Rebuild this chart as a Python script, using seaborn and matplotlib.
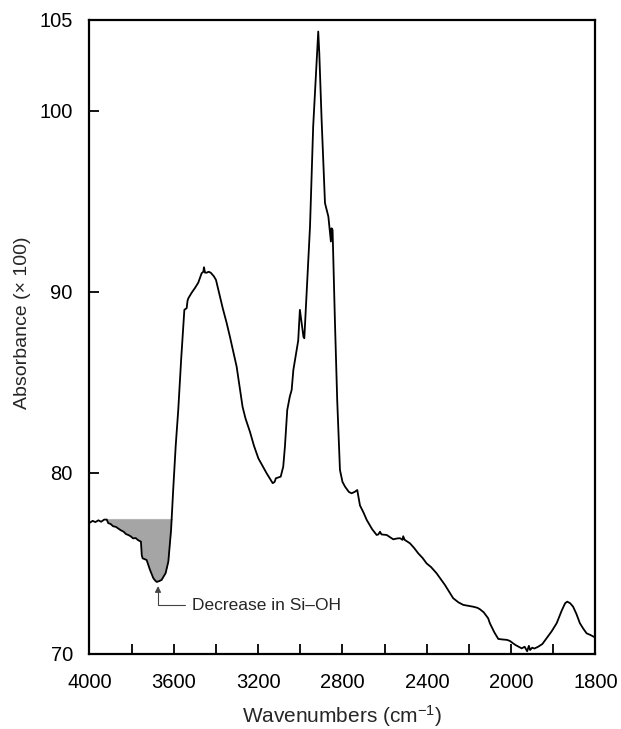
import numpy as np
import pandas as pd
import matplotlib
matplotlib.use('Agg')
import matplotlib.pyplot as plt
import seaborn as sns

# spectrum (wavenumber cm-1, absorbance x100)
wavenumbers = [
    3998, 3985, 3972, 3958, 3945, 3930, 3918, 3911, 3900, 3888, 3875, 3863,
    3850, 3838, 3827, 3816, 3805, 3793, 3781, 3769, 3756, 3752, 3748, 3729,
    3713, 3697, 3688, 3681, 3670, 3658, 3639, 3626, 3613, 3603, 3591, 3579,
    3565, 3550, 3539, 3535, 3531, 3515, 3500, 3484, 3468, 3460, 3457, 3452,
    3444, 3435, 3425, 3410, 3400, 3381, 3368, 3350, 3334, 3302, 3274, 3260,
    3239, 3220, 3199, 3180, 3160, 3140, 3131, 3122, 3116, 3093, 3081, 3073,
    3062, 3050, 3041, 3033, 3017, 3010, 3002, 2995, 2985, 2981, 2970, 2954,
    2939, 2915, 2910, 2899, 2883, 2867, 2855, 2852, 2847, 2836, 2825, 2812,
    2800, 2788, 2770, 2757, 2742, 2730, 2717, 2700, 2685, 2660, 2638, 2630,
    2622, 2615, 2590, 2575, 2559, 2540, 2527, 2515, 2512, 2505, 2480, 2460,
    2441, 2420, 2401, 2380, 2354, 2335, 2314, 2295, 2275, 2250, 2227, 2200,
    2180, 2160, 2148, 2130, 2109, 2101, 2080, 2061, 2040, 2020, 2006, 1990,
    1975, 1968, 1962, 1958, 1955, 1950, 1945, 1936, 1926, 1916, 1904, 1892,
    1880, 1872, 1867, 1860, 1853, 1845, 1837, 1829, 1821, 1812, 1805, 1800,
]
absorbance = [
    77.25, 77.35, 77.28, 77.38, 77.30, 77.42, 77.42, 77.22, 77.18, 77.05, 77.02, 76.92,
    76.82, 76.75, 76.62, 76.57, 76.50, 76.38, 76.40, 76.28, 76.20, 75.45, 75.28, 75.19,
    74.64, 74.18, 74.05, 73.98, 74.02, 74.09, 74.46, 75.10, 76.85, 79.06, 81.5, 83.47,
    86.3, 89.0, 89.09, 89.5, 89.64, 89.95, 90.2, 90.5, 91.02, 91.1, 91.35, 91.05,
    91.05, 91.1, 91.05, 90.85, 90.65, 89.73, 89.09, 88.3, 87.52, 85.86, 83.65, 83.0,
    82.27, 81.5, 80.8, 80.4, 79.98, 79.6, 79.43, 79.5, 79.7, 79.79, 80.34, 81.45,
    83.47, 84.2, 84.58, 85.68, 86.79, 87.3, 89.0, 88.4, 87.5, 87.43, 89.92, 93.6,
    99.12, 104.36, 103.17, 99.49, 94.89, 94.15, 92.77, 93.5, 93.41, 88.44, 84.0, 80.16,
    79.5, 79.24, 78.95, 78.87, 78.95, 79.05, 78.2, 77.8, 77.4, 76.9, 76.57, 76.6,
    76.75, 76.6, 76.57, 76.45, 76.33, 76.38, 76.39, 76.30, 76.5, 76.3, 76.11, 75.85,
    75.56, 75.3, 75.0, 74.8, 74.46, 74.15, 73.81, 73.45, 73.08, 72.85, 72.71, 72.65,
    72.61, 72.55, 72.47, 72.3, 71.97, 71.7, 71.2, 70.83, 70.8, 70.78, 70.72, 70.5,
    70.31, 70.4, 70.15, 70.45, 70.22, 70.35, 70.3, 70.4, 70.55, 70.87, 71.25, 71.7,
    72.4, 72.8, 72.89, 72.8, 72.61, 72.2, 71.7, 71.4, 71.14, 71.05, 70.96, 70.9,
]
baseline = 77.45
x_ticks = [4000, 3800, 3600, 3400, 3200, 3000, 2800, 2600, 2400, 2200, 2000, 1900, 1800]
x_labels = ['4000', '', '3600', '', '3200', '', '2800', '', '2400', '', '2000', '', '1800']
y_ticks = [70, 80, 90, 100, 105]

df = pd.DataFrame({'wn': wavenumbers, 'A': absorbance})

sns.set_theme(style='ticks')
plt.rcParams['font.family'] = ['Liberation Sans', 'DejaVu Sans']
plt.rcParams['mathtext.fontset'] = 'custom'
plt.rcParams['mathtext.rm'] = 'Liberation Sans'
plt.rcParams['mathtext.it'] = 'Liberation Sans'
plt.rcParams.update({
    'xtick.direction': 'in', 'ytick.direction': 'in',
    'xtick.major.size': 7, 'ytick.major.size': 7,
    'xtick.major.width': 1.3, 'ytick.major.width': 1.3,
    'xtick.color': 'black', 'ytick.color': 'black',
    'xtick.labelsize': 14.5, 'ytick.labelsize': 14.5,
    'xtick.major.pad': 14, 'ytick.major.pad': 12,
})


# scale doubles below 2000 cm-1, as on the original spectrometer chart
def fwd(w):
    w = np.asarray(w, dtype=float)
    return np.where(w >= 2000, w / 200.0, 10 + (w - 2000) / 100.0)


def inv(t):
    t = np.asarray(t, dtype=float)
    return np.where(t >= 10, t * 200.0, 2000 + (t - 10) * 100.0)


fig = plt.figure(figsize=(6.21, 7.29), dpi=100)
ax = fig.add_axes([0.1441, 0.1029, 0.8148, 0.8697])
ax.set_xscale('function', functions=(fwd, inv))

wn = df['wn'].to_numpy()
A = df['A'].to_numpy()
mask = (wn <= 3920) & (wn >= 3590)
ax.fill_between(wn, A, baseline, where=mask & (A < baseline), interpolate=True,
                color='#a5a5a5', linewidth=0)
ax.plot([3918, 3607], [baseline, baseline], color='#b5b5b5', lw=0.8)

sns.lineplot(data=df, x='wn', y='A', ax=ax, color='black', linewidth=1.3,
             sort=False, estimator=None)

ax.set_xlim(4000, 1800)
ax.set_ylim(70, 105)
ax.set_xticks(x_ticks)
ax.set_xticklabels(x_labels)
ax.set_yticks(y_ticks)
ax.set_yticklabels([str(v) for v in y_ticks])
ax.minorticks_off()
ax.tick_params(which='major', direction='in', length=7, width=1.3,
               bottom=True, left=True, top=False, right=False)
for s in ax.spines.values():
    s.set_linewidth(1.6)
    s.set_color('black')

ax.set_xlabel(r'Wavenumbers (cm$^{-1}$)', fontsize=15)
ax.set_ylabel('Absorbance (\u00d7 100)', fontsize=14)
ax.xaxis.label.set_va('center')
ax.xaxis.set_label_coords(0.5, -0.0975)
ax.yaxis.set_label_coords(-0.1155, 0.522)

ax.annotate('Decrease in Si\u2013OH', xy=(3675, 73.75), xytext=(3512, 72.68),
            fontsize=12.5, ha='left', va='center',
            arrowprops=dict(arrowstyle='-|>', color='#444444', lw=0.8,
                            mutation_scale=9,
                            connectionstyle='angle,angleA=0,angleB=90,rad=0',
                            shrinkA=3, shrinkB=0))

fig.savefig('out.png', dpi=100)
